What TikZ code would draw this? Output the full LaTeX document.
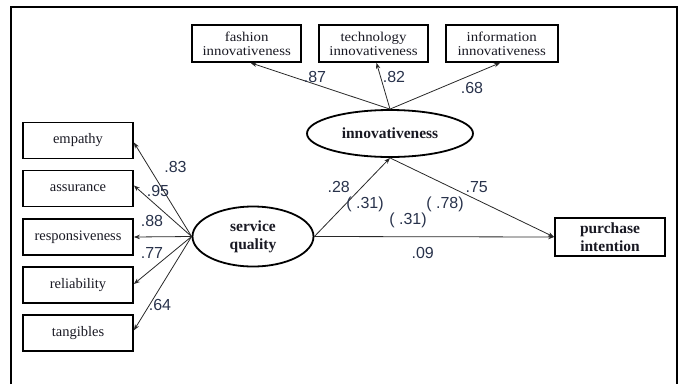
\documentclass[tikz,border=0pt]{standalone}
\usepackage{fontspec}
\setmainfont{Liberation Serif}
\newfontfamily\lblfont{Liberation Sans}
\newfontfamily\topfont[FakeStretch=1.1]{Liberation Serif}
\usetikzlibrary{arrows.meta,shapes.geometric}
\definecolor{lblcol}{RGB}{40,50,75}
\definecolor{txtcol}{RGB}{25,25,35}
\begin{document}
\begin{tikzpicture}[x=1pt,y=-1pt,
  obsbox/.style={draw=black,line width=1.8pt,rectangle,minimum width=110pt,minimum height=36pt,inner sep=0pt,align=center,text=txtcol,font=\fontsize{14.5}{17}\selectfont},
  topbox/.style={draw=black,line width=1.8pt,rectangle,minimum width=109pt,minimum height=37pt,inner sep=0pt,align=center,text=txtcol,font=\topfont\fontsize{13.5}{17}\selectfont},
  latent/.style={draw=black,line width=1.8pt,ellipse,inner sep=0pt,align=center,text=txtcol,font=\bfseries\fontsize{15.5}{18}\selectfont},
  outbox/.style={draw=black,line width=1.8pt,rectangle,minimum width=110pt,minimum height=38pt,inner sep=0pt,align=center,text=txtcol,font=\bfseries\fontsize{15.5}{18}\selectfont},
  path/.style={draw={rgb,255:red,40;green,40;blue,40},line width=0.8pt,-{Stealth[length=6pt,width=4.5pt]}},
  coef/.style={inner sep=0pt,text=lblcol,font=\lblfont\fontsize{16}{16}\selectfont}]
\useasboundingbox (0,0) rectangle (681,384);
\draw[line width=2.4pt] (11,384) -- (11,7) -- (677,7) -- (677,384);

% top indicators
\node[topbox] (fash) at (246.7,43.5) {fashion\\[-3pt]innovativeness};
\node[topbox] (tech) at (373.5,43.5) {technology\\[-3pt]innovativeness};
\node[topbox,minimum width=112pt] (info) at (501.7,43.5) {information\\[-3pt]innovativeness};

% latent variables
\node[latent,minimum width=166pt,minimum height=47pt] (inn) at (390,133.5) {innovativeness};
\node[latent,minimum width=121pt,minimum height=60pt] (sq) at (253,236.5) {service\\quality};
\node[outbox] (pi) at (610,237) {purchase\\intention};

% left indicators
\node[obsbox] (emp) at (78,140.5) {empathy};
\node[obsbox] (ass) at (78,188.5) {assurance};
\node[obsbox] (res) at (78,237) {responsiveness};
\node[obsbox] (rel) at (78,285) {reliability};
\node[obsbox] (tan) at (78,333.3) {tangibles};

% paths
\draw[path] (inn.north) -- ([xshift=4pt]fash.south);
\draw[path] (inn.north) -- ([xshift=3pt]tech.south);
\draw[path] (inn.north) -- ([xshift=-1.7pt]info.south);

\draw[path] (sq.west) -- ([yshift=-2pt]emp.east);
\draw[path] (sq.west) -- ([yshift=3pt]ass.east);
\draw[path] (sq.west) -- (res.east);
\draw[path] (sq.west) -- ([yshift=1pt]rel.east);
\draw[path] (sq.west) -- ([yshift=3pt]tan.east);

\draw[path] (sq.east) -- (inn.south);
\draw[path] (inn.south) -- (pi.west);
\draw[path] (sq.east) -- (pi.west);

% coefficients
\node[coef] (c87) at (315,76.5) {.87};
\node[coef] (c82) at (394,77) {.82};
\node[coef] (c68) at (472,88) {.68};
\node[coef] (c83) at (175.5,166.7) {.83};
\node[coef] (c95) at (158,191) {.95};
\node[coef] (c88) at (152,221) {.88};
\node[coef] (c77) at (152,253) {.77};
\node[coef] (c64) at (160,305) {.64};
\node[coef] (c28) at (338.7,187) {.28};
\node[coef] (c31a) at (365,204) {( .31)};
\node[coef] (c75) at (476.7,187) {.75};
\node[coef] (c78) at (445,204) {( .78)};
\node[coef] (c31b) at (408,220.7) {( .31)};
\node[coef] (c09) at (422.7,253) {.09};
\end{tikzpicture}
\end{document}
